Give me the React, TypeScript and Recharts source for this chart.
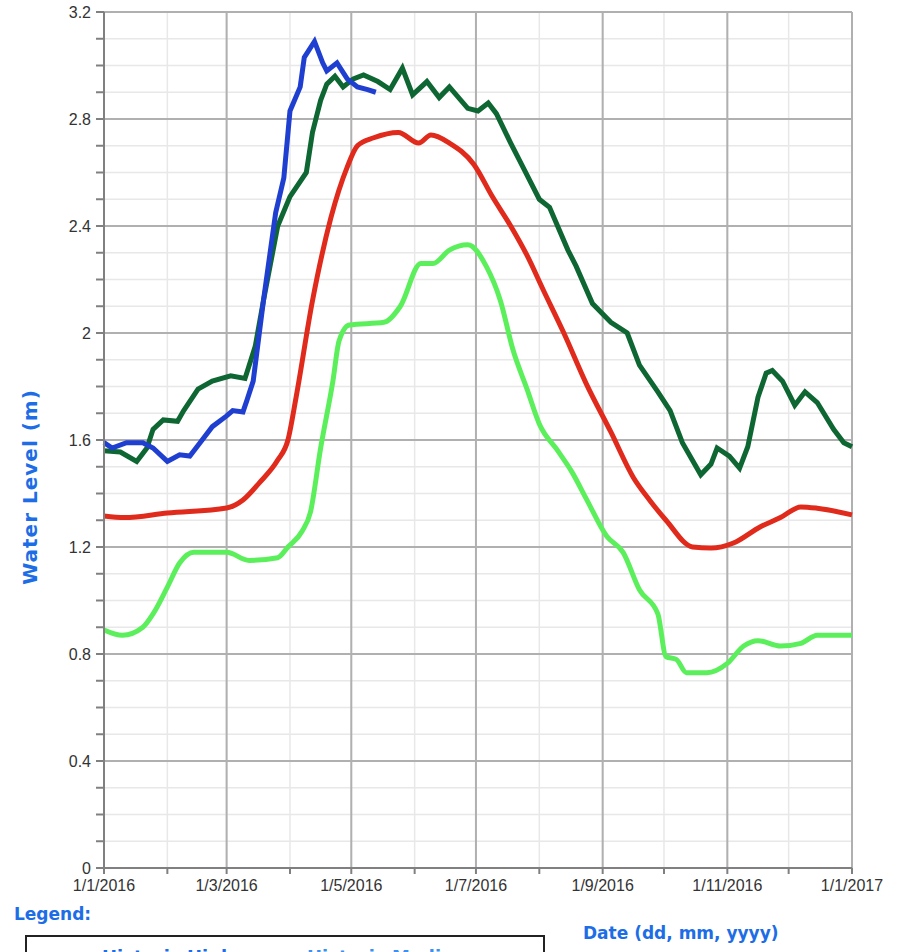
import { LineChart, Line, XAxis, YAxis, CartesianGrid, ReferenceLine } from "recharts";

// x = days since 1/1/2016, y = water level (m)
const MONTH_TICKS = [0, 31, 60, 91, 121, 152, 182, 213, 244, 274, 305, 335, 366];
const MONTH_LABELS = ["1/1/2016", "", "1/3/2016", "", "1/5/2016", "", "1/7/2016", "", "1/9/2016", "", "1/11/2016", "", "1/1/2017"];
const MAJOR_DAYS = [60, 121, 182, 244, 305, 366];

const LEVEL_TICKS = [0, 0.1, 0.2, 0.3, 0.4, 0.5, 0.6, 0.7, 0.8, 0.9, 1, 1.1, 1.2, 1.3, 1.4, 1.5, 1.6, 1.7, 1.8, 1.9, 2, 2.1, 2.2, 2.3, 2.4, 2.5, 2.6, 2.7, 2.8, 2.9, 3, 3.1, 3.2];
const MAJOR_LEVELS = [0, 0.4, 0.8, 1.2, 1.6, 2, 2.4, 2.8, 3.2];
const MAJOR_LEVEL_LABELS = ["0", "0.4", "0.8", "1.2", "1.6", "2", "2.4", "2.8", "3.2"];

// 2016 observed
const DAYS_2016 = [0, 4, 11, 19, 24, 31, 37, 42, 47, 53, 60, 63, 68, 70, 73, 78, 84, 88, 91, 96, 98, 103, 107, 109, 114, 119, 124, 129, 133];
const LEVEL_2016 = [1.59, 1.57, 1.59, 1.59, 1.57, 1.52, 1.545, 1.54, 1.59, 1.65, 1.69, 1.71, 1.705, 1.75, 1.82, 2.12, 2.45, 2.58, 2.83, 2.92, 3.03, 3.09, 3.01, 2.98, 3.01, 2.95, 2.92, 2.91, 2.9];

// historic maximum
const DAYS_MAX = [0, 8, 16, 21, 24, 29, 36, 39, 46, 53, 62, 69, 74, 78, 85, 91, 99, 102, 106, 109, 113, 117, 122, 127, 134, 140, 146, 151, 158, 164, 169, 178, 183, 188, 192, 199, 205, 213, 218, 227, 231, 239, 248, 256, 262, 271, 277, 283, 292, 297, 300, 306, 311, 315, 320, 324, 327, 332, 338, 343, 349, 357, 362, 366];
const LEVEL_MAX = [1.56, 1.555, 1.52, 1.57, 1.64, 1.675, 1.67, 1.71, 1.79, 1.82, 1.84, 1.83, 1.95, 2.12, 2.4, 2.51, 2.6, 2.75, 2.87, 2.93, 2.96, 2.92, 2.95, 2.965, 2.94, 2.91, 2.99, 2.89, 2.94, 2.88, 2.92, 2.84, 2.83, 2.86, 2.82, 2.71, 2.62, 2.5, 2.47, 2.31, 2.25, 2.11, 2.04, 2.0, 1.88, 1.78, 1.71, 1.59, 1.47, 1.51, 1.57, 1.54, 1.495, 1.575, 1.76, 1.85, 1.86, 1.82, 1.73, 1.78, 1.74, 1.64, 1.59, 1.575];

// historic median
const DAYS_MED = [0, 10, 31, 60, 68, 76, 85, 90, 94, 102, 111, 119, 124, 132, 144, 154, 160, 169, 181, 190, 199, 207, 215, 225, 236, 248, 259, 267, 275, 288, 297, 308, 321, 331, 341, 349, 366];
const LEVEL_MED = [1.316, 1.31, 1.327, 1.346, 1.376, 1.44, 1.525, 1.6, 1.76, 2.12, 2.43, 2.62, 2.7, 2.73, 2.75, 2.71, 2.74, 2.71, 2.63, 2.51, 2.4, 2.29, 2.16, 2.0, 1.81, 1.63, 1.46, 1.375, 1.3, 1.2, 1.196, 1.215, 1.275, 1.31, 1.35, 1.345, 1.32];

// historic minimum
const DAYS_MIN = [0, 9, 19, 24, 31, 37, 44, 60, 71, 85, 90, 97, 101, 106, 112, 115, 120, 137, 145, 155, 161, 169, 178, 187, 194, 200, 207, 213, 222, 229, 236, 246, 254, 262, 271, 275, 280, 285, 295, 305, 313, 320, 331, 341, 349, 366];
const LEVEL_MIN = [0.89, 0.87, 0.9, 0.95, 1.05, 1.14, 1.18, 1.18, 1.15, 1.16, 1.2, 1.26, 1.33, 1.57, 1.82, 1.97, 2.03, 2.04, 2.1, 2.26, 2.26, 2.31, 2.33, 2.25, 2.12, 1.94, 1.79, 1.66, 1.56, 1.48, 1.38, 1.24, 1.18, 1.04, 0.95, 0.79, 0.78, 0.73, 0.73, 0.765, 0.83, 0.85, 0.83, 0.84, 0.87, 0.87];

const toRows = (days: number[], levels: number[]) => days.map((d, i) => ({ day: d, level: levels[i] }));

const COLORS = {
  y2016: "#1f3fd0",
  max: "#0e6632",
  median: "#e02a1c",
  min: "#5cef5c",
  label: "#1d6de6",
};

const tickFont = { fontFamily: "'Liberation Sans', Arial, sans-serif", fontSize: 16, fill: "#333" };
const labelFont = { fontFamily: "'DejaVu Sans', sans-serif", fontWeight: 700, color: COLORS.label };

export default function App() {
  const yLabel = (v: number) => {
    const i = MAJOR_LEVELS.findIndex((m) => Math.abs(m - v) < 1e-6);
    return i >= 0 ? MAJOR_LEVEL_LABELS[i] : "";
  };
  const xLabel = (v: number) => MONTH_LABELS[MONTH_TICKS.indexOf(v)] ?? "";

  return (
    <div style={{ position: "fixed", top: 0, left: 0, width: 897, height: 952, overflow: "hidden", background: "#fff" }}>
      <LineChart width={897} height={905} margin={{ top: 12, right: 45, bottom: 7, left: 40 }}>
        <CartesianGrid stroke="#e8e8e8" strokeWidth={1.5} />
        {MAJOR_DAYS.map((d) => (
          <ReferenceLine key={"x" + d} x={d} stroke="#b0b0b0" strokeWidth={2} />
        ))}
        {MAJOR_LEVELS.map((v) => (
          <ReferenceLine key={"y" + v} y={v} stroke="#b0b0b0" strokeWidth={2} />
        ))}
        <XAxis
          dataKey="day"
          type="number"
          domain={[0, 366]}
          ticks={MONTH_TICKS}
          interval={0}
          tickFormatter={xLabel}
          tick={tickFont}
          tickSize={6}
          tickMargin={6}
          height={30}
          stroke="#808080"
          strokeWidth={2}
          allowDuplicatedCategory={false}
        />
        <YAxis
          type="number"
          domain={[0, 3.2]}
          ticks={LEVEL_TICKS}
          interval={0}
          tickFormatter={yLabel}
          tick={tickFont}
          tickSize={8}
          tickMargin={5}
          width={64}
          stroke="#808080"
          strokeWidth={2}
        />
        <Line data={toRows(DAYS_MIN, LEVEL_MIN)} dataKey="level" type="monotone" stroke={COLORS.min} strokeWidth={5} dot={false} isAnimationActive={false} />
        <Line data={toRows(DAYS_MED, LEVEL_MED)} dataKey="level" type="monotone" stroke={COLORS.median} strokeWidth={5} dot={false} isAnimationActive={false} />
        <Line data={toRows(DAYS_MAX, LEVEL_MAX)} dataKey="level" type="linear" stroke={COLORS.max} strokeWidth={5} dot={false} isAnimationActive={false} />
        <Line data={toRows(DAYS_2016, LEVEL_2016)} dataKey="level" type="linear" stroke={COLORS.y2016} strokeWidth={5} dot={false} isAnimationActive={false} />
      </LineChart>

      <div
        style={{
          ...labelFont,
          position: "absolute",
          left: 30,
          top: 487,
          fontSize: 20,
          letterSpacing: 1,
          whiteSpace: "nowrap",
          transform: "translate(-50%, -50%) rotate(-90deg)",
        }}
      >
        Water Level (m)
      </div>
      <div style={{ ...labelFont, position: "absolute", left: 14, top: 904, fontSize: 17 }}>Legend:</div>
      <div style={{ ...labelFont, position: "absolute", left: 583, top: 923, fontSize: 17 }}>Date (dd, mm, yyyy)</div>
      <div
        style={{
          position: "absolute",
          left: 25,
          top: 935,
          width: 520,
          height: 60,
          border: "2px solid #222",
          boxSizing: "border-box",
        }}
      >
        <span style={{ ...labelFont, position: "absolute", left: 75, top: 9, fontSize: 18 }}>Historic High</span>
        <span style={{ ...labelFont, position: "absolute", left: 280, top: 9, fontSize: 18, color: "#3d8ff0" }}>Historic Median</span>
      </div>
    </div>
  );
}
